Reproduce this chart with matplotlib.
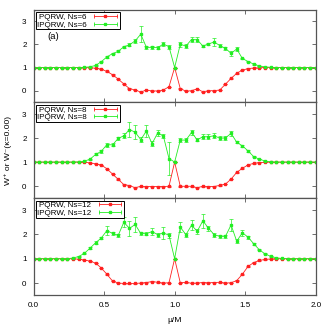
import numpy as np
import matplotlib
matplotlib.use("Agg")
import matplotlib.pyplot as plt
from matplotlib.lines import Line2D
from matplotlib.legend_handler import HandlerLine2D

plt.rcParams['font.family'] = ['Liberation Sans', 'DejaVu Sans']

# mu/M grid (step 0.04)
mu = np.arange(51) * 0.04

# Ns=6
pq6 = [1.0, 1.0, 1.0, 1.0, 1.0, 1.0, 1.0, 1.0, 1.0, 1.0,
       0.99, 0.97, 0.93, 0.83, 0.69, 0.50, 0.29, 0.09, 0.03, -0.06,
       0.03, -0.01, -0.01, 0.03, 0.17, 1.0, 0.09, -0.02, 0.0, 0.08,
       -0.05, 0.0, 0.0, 0.03, 0.28, 0.53, 0.75, 0.89, 0.95, 0.98,
       0.99, 1.0, 1.0, 1.0, 1.0, 1.0, 1.0, 1.0, 1.0, 1.0, 1.0]
ip6 = [1.0, 1.0, 1.0, 1.0, 1.0, 1.0, 1.0, 1.0, 1.0, 1.01,
       1.03, 1.09, 1.25, 1.46, 1.60, 1.70, 1.90, 1.98, 2.15, 2.44,
       1.87, 1.87, 1.86, 2.01, 1.90, 1.0, 2.00, 1.93, 2.21, 2.20,
       1.93, 2.02, 2.10, 1.95, 1.83, 1.61, 1.80, 1.39, 1.26, 1.15,
       1.07, 1.03, 1.01, 1.0, 1.0, 1.0, 1.0, 1.0, 1.0, 1.0, 1.0]
ip6_err = [0, 0, 0, 0, 0, 0, 0, 0, 0, 0,
           0, 0.01, 0.02, 0.03, 0.03, 0.04, 0.05, 0.07, 0.10, 0.35,
           0.08, 0.05, 0.06, 0.10, 0.08, 0, 0.10, 0.07, 0.09, 0.10,
           0.05, 0.06, 0.17, 0.07, 0.06, 0.10, 0.08, 0.04, 0.02, 0.02,
           0.01, 0, 0, 0, 0, 0, 0, 0, 0, 0, 0]

# Ns=8
pq8 = [1.0, 1.0, 1.0, 1.0, 1.0, 1.0, 1.0, 1.0, 1.0, 0.99,
       0.97, 0.93, 0.88, 0.72, 0.50, 0.28, 0.06, 0.02, -0.07, -0.01,
       -0.02, -0.02, -0.02, -0.02, -0.01, 1.0, -0.01, -0.01, -0.01, -0.07,
       -0.01, -0.02, -0.02, 0.03, 0.08, 0.29, 0.57, 0.74, 0.88, 0.95,
       0.98, 0.99, 1.0, 1.0, 1.0, 1.0, 1.0, 1.0, 1.0, 1.0, 1.0]
ip8 = [1.0, 1.0, 1.0, 1.0, 1.0, 1.0, 1.0, 1.0, 1.01, 1.04,
       1.12, 1.32, 1.45, 1.73, 1.72, 1.99, 2.10, 2.36, 2.25, 1.94,
       2.30, 1.77, 2.22, 2.09, 1.15, 1.0, 1.92, 1.92, 2.24, 1.93,
       2.06, 2.06, 2.10, 2.00, 2.01, 2.20, 1.83, 1.68, 1.47, 1.23,
       1.12, 1.05, 1.01, 1.0, 1.0, 1.0, 1.0, 1.0, 1.0, 1.0, 1.0]
ip8_err = [0, 0, 0, 0, 0, 0, 0, 0, 0, 0.01,
           0.02, 0.04, 0.05, 0.08, 0.06, 0.07, 0.10, 0.33, 0.30, 0.10,
           0.25, 0.10, 0.12, 0.10, 0.70, 0, 0.08, 0.08, 0.10, 0.06,
           0.10, 0.10, 0.10, 0.08, 0.10, 0.12, 0.05, 0.04, 0.03, 0.02,
           0.01, 0, 0, 0, 0, 0, 0, 0, 0, 0, 0]

# Ns=12
pq12 = [1.0, 1.0, 1.0, 1.0, 1.0, 1.0, 1.0, 1.0, 0.98, 0.95,
        0.90, 0.82, 0.62, 0.36, 0.08, 0.0, -0.02, -0.02, -0.02, 0.0,
        0.02, 0.06, 0.03, 0.0, 0.01, 1.0, 0.01, 0.03, -0.01, 0.0,
        0.02, 0.01, 0.02, 0.03, 0.0, 0.01, 0.10, 0.36, 0.68, 0.84,
        0.93, 0.97, 0.99, 1.0, 1.0, 1.0, 1.0, 1.0, 1.0, 1.0, 1.0]
ip12 = [1.0, 1.0, 1.0, 1.0, 1.0, 1.0, 1.0, 1.03, 1.09, 1.22,
        1.43, 1.66, 1.85, 2.16, 2.04, 1.96, 2.50, 2.25, 2.41, 2.04,
        2.03, 2.12, 1.99, 2.06, 1.97, 1.0, 2.30, 1.99, 2.38, 2.13,
        2.56, 2.26, 1.99, 1.92, 1.92, 2.39, 1.72, 2.07, 1.89, 1.62,
        1.37, 1.20, 1.10, 1.04, 1.01, 1.0, 1.0, 1.0, 1.0, 1.0, 1.0]
ip12_err = [0, 0, 0, 0, 0, 0, 0, 0.01, 0.02, 0.03,
            0.04, 0.05, 0.05, 0.20, 0.06, 0.06, 0.20, 0.30, 0.30, 0.08,
            0.07, 0.15, 0.08, 0.25, 0.10, 0, 0.20, 0.08, 0.20, 0.10,
            0.30, 0.10, 0.08, 0.06, 0.06, 0.25, 0.08, 0.12, 0.06, 0.04,
            0.03, 0.02, 0.01, 0, 0, 0, 0, 0, 0, 0, 0]

panels = [("6", pq6, ip6, ip6_err),
          ("8", pq8, ip8, ip8_err),
          ("12", pq12, ip12, ip12_err)]

RED = "#ff2020"
GREEN = "#22ee22"
FRAME = "#555555"
FS = 5.8

fig = plt.figure(figsize=(3.32, 3.32), dpi=100)
gs = fig.add_gridspec(3, 1, left=0.101, right=0.951, top=0.971, bottom=0.111,
                      hspace=0, height_ratios=[92.5, 95.6, 97])

axes = []
for i, (ns, pq, ip, ip_err) in enumerate(panels):
    ax = fig.add_subplot(gs[i])
    axes.append(ax)
    pq_err = [0.01 if 0.0 < abs(v) < 0.99 else 0.0 for v in pq]

    ax.errorbar(mu, pq, yerr=pq_err, color=RED, lw=0.6, marker="s", ms=1.5,
                elinewidth=0.5, capsize=1.2, capthick=0.5)
    ax.errorbar(mu, ip, yerr=ip_err, color=GREEN, lw=0.6, marker="s", ms=1.5,
                elinewidth=0.5, capsize=1.2, capthick=0.5)

    # gnuplot-like key samples: line with end caps and a center point
    h = []
    hmap = {}
    for c in (RED, GREEN):
        caps = Line2D([], [], color=c, lw=0.6, marker="|", ms=3, mew=0.6)
        dot = Line2D([], [], color=c, lw=0, marker="s", ms=1.5)
        hmap[caps] = HandlerLine2D(numpoints=2)
        hmap[dot] = HandlerLine2D(numpoints=1)
        h.append((caps, dot))
    leg = ax.legend(h, ["PQRW, Ns=" + ns, "IPQRW, Ns=" + ns], loc="upper left",
                    handler_map=hmap, fontsize=FS, frameon=True, fancybox=False,
                    edgecolor="black", framealpha=1, borderpad=0.1,
                    labelspacing=0.0, handlelength=3.4, handletextpad=0.6,
                    borderaxespad=0.35, markerfirst=False)
    leg.get_frame().set_linewidth(0.7)

    ax.set_xlim(0, 2)
    ax.set_ylim(-0.5, 3.5)
    ax.set_yticks([0, 1, 2, 3])
    ax.set_xticks([0, 0.5, 1.0, 1.5, 2.0])
    ax.tick_params(direction="in", top=True, right=True, length=3, width=0.6,
                   color=FRAME, labelsize=FS, pad=5)
    for s in ax.spines.values():
        s.set_color(FRAME)
        s.set_linewidth(0.9)
    if i < 2:
        ax.tick_params(labelbottom=False)
    else:
        ax.set_xticklabels(["0.0", "0.5", "1.0", "1.5", "2.0"])

axes[0].text(0.1, 2.25, "(a)", fontsize=FS + 1)
axes[1].set_ylabel("W⁺ or W⁻(κ=0.00)", fontsize=FS + 0.3, labelpad=7)
axes[2].set_xlabel("μ/M", fontsize=FS + 0.3, labelpad=6)

fig.savefig("out.png", dpi=100)
